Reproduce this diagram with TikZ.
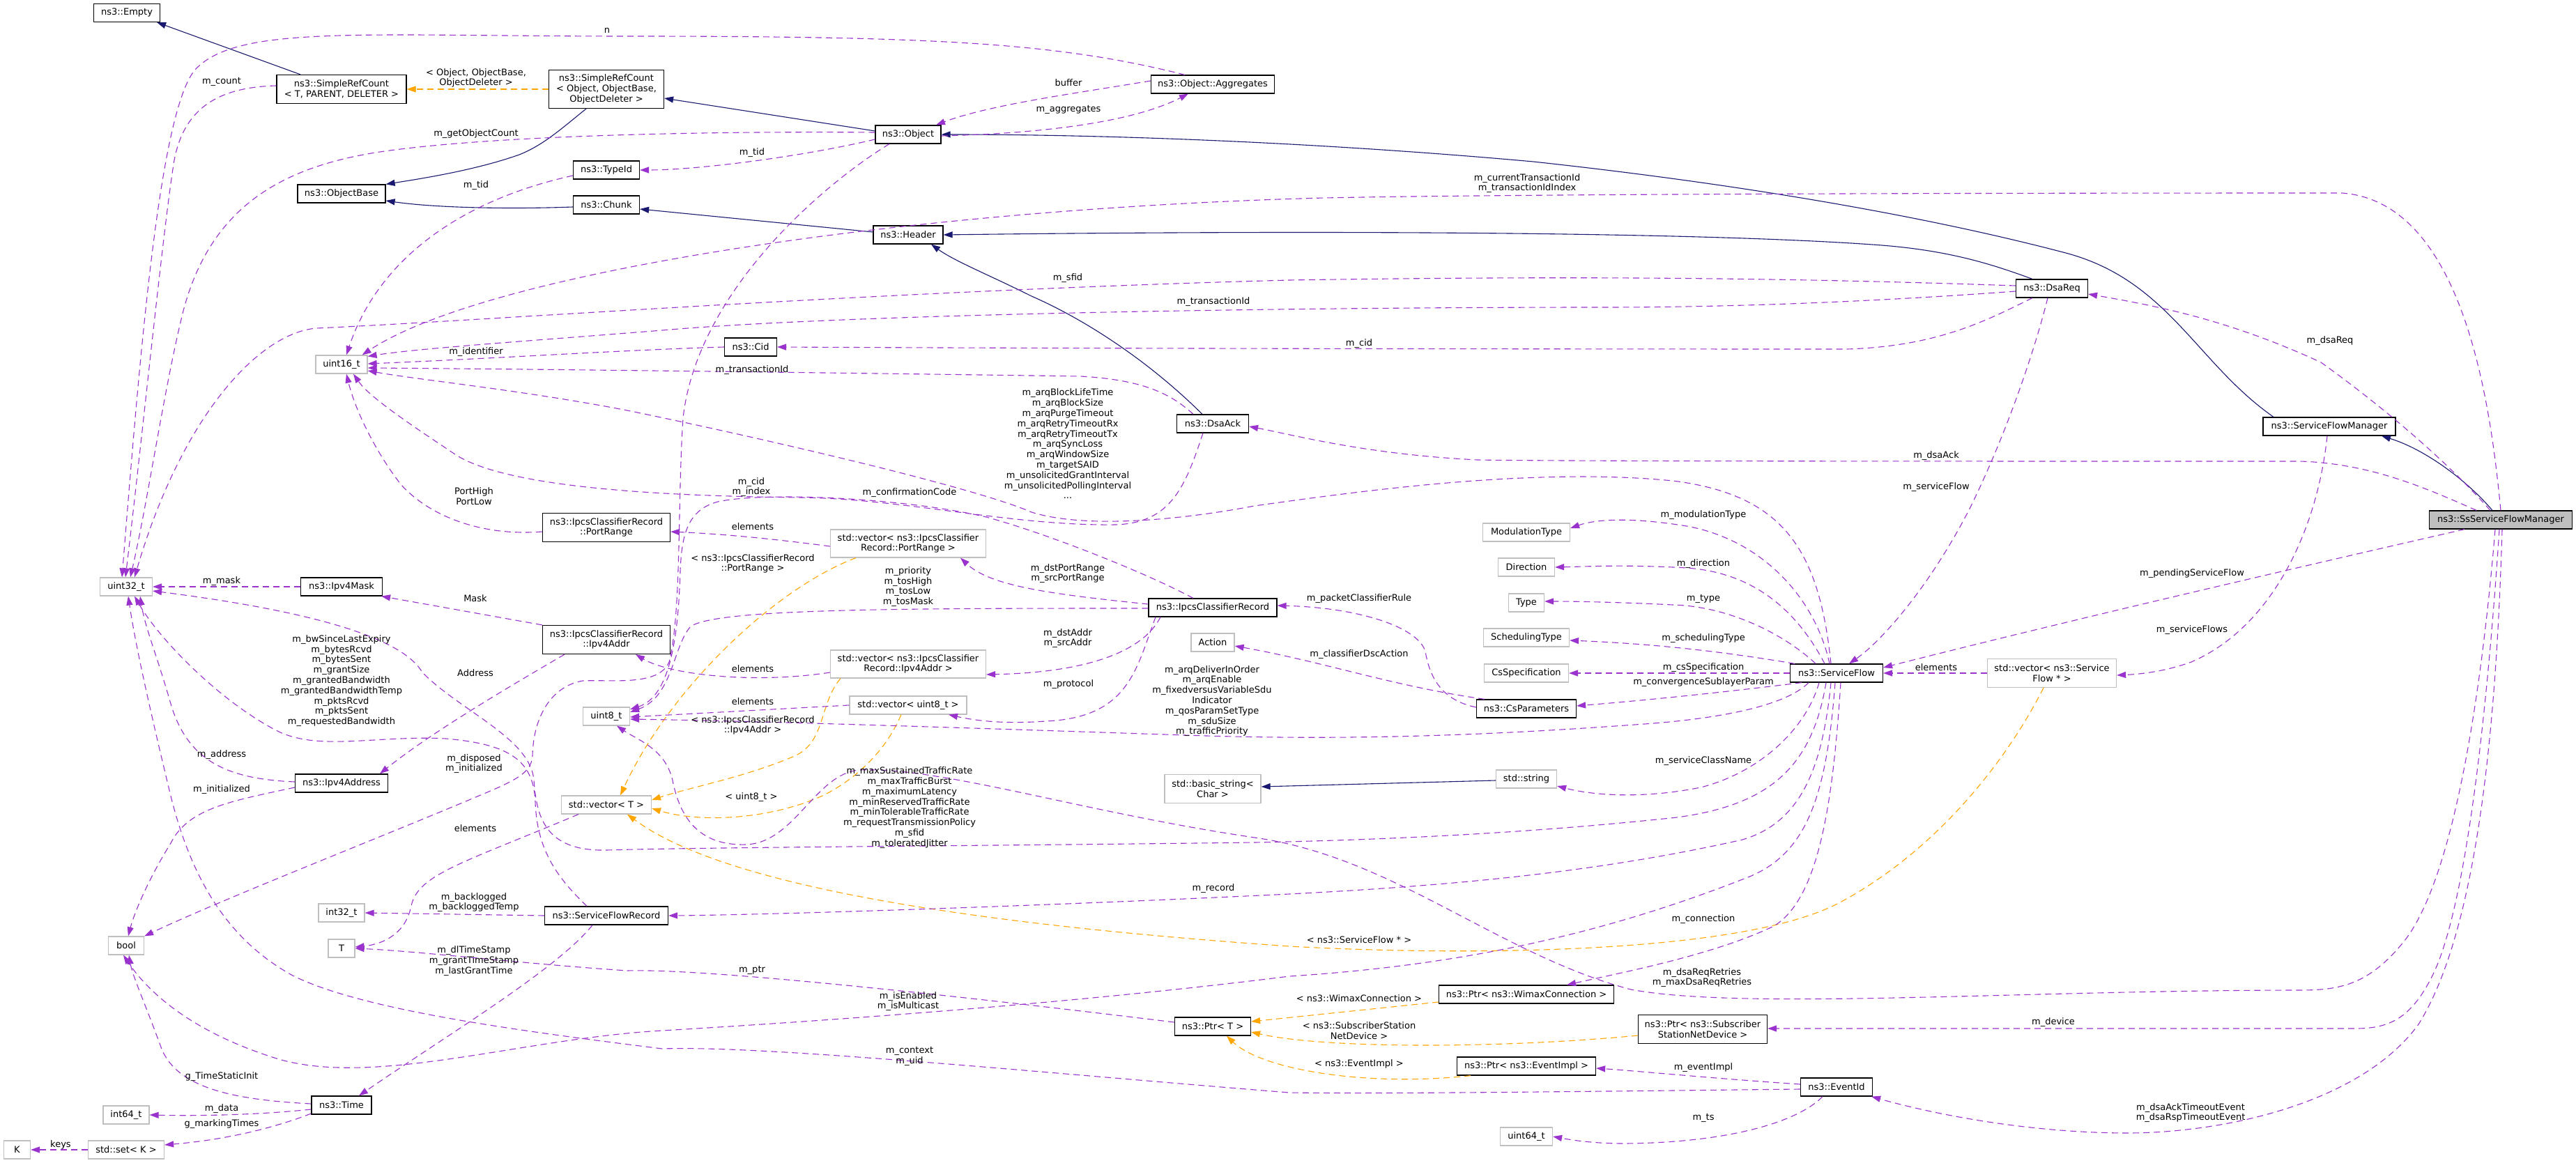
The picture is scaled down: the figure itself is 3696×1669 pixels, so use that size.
\documentclass[tikz,border=0pt]{standalone}
\usepackage{fontspec}
\setmainfont{DejaVu Sans}
\usetikzlibrary{arrows.meta}
\definecolor{edgeuse}{HTML}{9A32CD}
\definecolor{edgetpl}{HTML}{FFA500}
\definecolor{edgeinh}{HTML}{191970}
\definecolor{boxgray}{HTML}{BFBFBF}

\begin{document}
\begin{tikzpicture}[x=1pt,y=-1pt,font=\fontsize{13}{14.8}\selectfont,
  docbox/.style={draw=black,line width=1.2pt,fill=white,inner sep=1pt,align=center},
  extbox/.style={docbox,draw=boxgray},
  lbl/.style={inner sep=0pt,align=center},
  member/.style={draw=edgeuse,line width=1.1pt,dash pattern=on 9pt off 6pt,-{Triangle[length=13pt,width=9pt]}},
  tmpl/.style={member,draw=edgetpl},
  inherit/.style={draw=edgeinh,line width=1.1pt,-{Triangle[length=13pt,width=9pt]}}]
\useasboundingbox (0,0) rectangle (3696,1669);
\fill[white] (0,0) rectangle (3696,1669);

\newcommand{\classbox}[6]{\node[#1,minimum width=#4pt,minimum height=#5pt] (#2) at (#3) {#6};}

% classes
\classbox{docbox}{empty}{182,18.5}{95}{26}{ns3::Empty}
\classbox{docbox}{srcT}{490,128}{186}{41}{ns3::SimpleRefCount\\< T, PARENT, DELETER >}
\classbox{docbox}{srcObj}{870,128}{165}{55}{ns3::SimpleRefCount\\< Object, ObjectBase,\\ObjectDeleter >}
\classbox{docbox}{objbase}{490,278}{126}{26}{ns3::ObjectBase}
\classbox{docbox}{typeid}{870,244}{95}{26}{ns3::TypeId}
\classbox{docbox}{chunk}{870,294}{95}{26}{ns3::Chunk}
\classbox{docbox}{object}{1303,193}{94}{26}{ns3::Object}
\classbox{docbox}{aggr}{1740,121}{177}{26}{ns3::Object::Aggregates}
\classbox{docbox}{header}{1303,337}{100}{26}{ns3::Header}
\classbox{docbox}{cid}{1077,498}{75}{26}{ns3::Cid}
\classbox{docbox}{dsareq}{2944,414}{103}{26}{ns3::DsaReq}
\classbox{docbox}{dsaack}{1740,608}{103}{26}{ns3::DsaAck}
\classbox{extbox}{u16}{490,523}{74}{26}{uint16\_t}
\classbox{extbox}{u32}{181,842}{75}{26}{uint32\_t}
\classbox{docbox}{ipv4mask}{490,842}{117}{26}{ns3::Ipv4Mask}
\classbox{docbox}{portrange}{870,757}{183}{41}{ns3::IpcsClassifierRecord\\::PortRange}
\classbox{docbox}{ipv4addr}{870,918}{183}{41}{ns3::IpcsClassifierRecord\\::Ipv4Addr}
\classbox{extbox}{u8}{870,1028}{67}{26}{uint8\_t}
\classbox{docbox}{ipv4address}{490,1124}{133}{26}{ns3::Ipv4Address}
\classbox{extbox}{vecpr}{1303,780}{223}{40}{std::vector< ns3::IpcsClassifier\\Record::PortRange >}
\classbox{docbox}{ipcs}{1740,872}{184}{26}{ns3::IpcsClassifierRecord}
\classbox{extbox}{action}{1740,922}{62}{26}{Action}
\classbox{extbox}{vecip}{1303,953}{223}{40}{std::vector< ns3::IpcsClassifier\\Record::Ipv4Addr >}
\classbox{extbox}{vecu8}{1303,1012}{168}{26}{std::vector< uint8\_t >}
\classbox{extbox}{basicstr}{1740,1132}{138}{41}{std::basic\_string<\\Char >}
\classbox{extbox}{modtype}{2190,764}{125}{26}{ModulationType}
\classbox{extbox}{direction}{2190,814}{81}{26}{Direction}
\classbox{extbox}{type}{2190,865}{51}{26}{Type}
\classbox{extbox}{schedtype}{2190,915}{123}{26}{SchedulingType}
\classbox{extbox}{csspec}{2190,966}{121}{26}{CsSpecification}
\classbox{docbox}{csparams}{2190,1017}{143}{26}{ns3::CsParameters}
\classbox{docbox}{sflow}{2635,966}{133}{26}{ns3::ServiceFlow}
\classbox{extbox}{stdstr}{2190,1118}{87}{26}{std::string}
\classbox{docbox}{sfm}{3342,612}{190}{26}{ns3::ServiceFlowManager}
\classbox{docbox,fill=boxgray}{ssfm}{3588,746}{205}{26}{ns3::SsServiceFlowManager}
\classbox{extbox}{vecsf}{2944,966}{185}{41}{std::vector< ns3::Service\\Flow * >}
\classbox{extbox}{bool}{181,1357}{51}{26}{bool}
\classbox{extbox}{i32}{490,1310}{66}{26}{int32\_t}
\classbox{extbox}{T}{490,1361}{38}{26}{T}
\classbox{extbox}{vecT}{870,1155}{129}{26}{std::vector< T >}
\classbox{docbox}{sfrec}{870,1314}{177}{26}{ns3::ServiceFlowRecord}
\classbox{docbox}{time}{490,1586}{86}{26}{ns3::Time}
\classbox{extbox}{i64}{181,1600}{66}{26}{int64\_t}
\classbox{extbox}{setK}{181,1650}{109}{26}{std::set< K >}
\classbox{extbox}{K}{24.5,1650}{38}{26}{K}
\classbox{docbox}{ptrT}{1740,1473}{109}{26}{ns3::Ptr< T >}
\classbox{docbox}{ptrwc}{2190,1427}{251}{26}{ns3::Ptr< ns3::WimaxConnection >}
\classbox{docbox}{ptrss}{2443,1477}{185}{41}{ns3::Ptr< ns3::Subscriber\\StationNetDevice >}
\classbox{docbox}{ptrev}{2190,1530}{199}{26}{ns3::Ptr< ns3::EventImpl >}
\classbox{docbox}{eventid}{2635,1560}{103}{26}{ns3::EventId}
\classbox{extbox}{u64}{2190,1631}{75}{26}{uint64\_t}

% inheritance
\draw[inherit] ([xshift=-59pt]srcT.north) -- ([xshift=-5pt]empty.south east);
\draw[inherit] ([xshift=-29pt]srcObj.south) .. controls (805,185) and (780,208) .. (745,222) .. controls (680,245) and (600,257) .. (objbase.north east);
\draw[inherit] ([yshift=5pt]object.west) -- ([yshift=-13pt]srcObj.east);
\draw[inherit] ([yshift=-3pt]chunk.west) .. controls (740,300) and (630,299) .. ([yshift=-10pt]objbase.east);
\draw[inherit] ([yshift=4pt]header.west) -- ([yshift=-6pt]chunk.east);
\draw[inherit] ([xshift=-28pt]dsareq.north) .. controls (2860,380) and (2800,360) .. (2700,352) .. controls (2450,333) and (1900,330) .. (header.east);
\draw[inherit] ([xshift=-15pt]dsaack.north) .. controls (1650,520) and (1560,460) .. (1480,425) .. controls (1420,395) and (1370,375) .. ([xshift=33pt]header.south);
\draw[inherit] ([xshift=-80pt]sfm.north) .. controls (3150,520) and (3110,400) .. (2960,362) .. controls (2800,320) and (2550,270) .. (2200,232) .. controls (1900,205) and (1600,193) .. (object.east);
\draw[inherit] ([xshift=-12pt]ssfm.north) .. controls (3540,690) and (3480,645) .. ([xshift=75pt]sfm.south);
\draw[inherit] ([yshift=-2pt]stdstr.west) -- ([yshift=3pt]basicstr.east);

% template instances
\draw[tmpl] (srcObj.west) -- (srcT.east);
\draw[tmpl] ([xshift=-75pt]vecpr.south) .. controls (1110,845) and (960,990) .. ([xshift=20pt]vecT.north);
\draw[tmpl] ([xshift=-97pt]vecip.south) .. controls (1175,1010) and (1185,1065) .. (1140,1085) .. controls (1070,1115) and (990,1130) .. ([yshift=7pt]vecT.east);
\draw[tmpl] ([xshift=-10pt]vecu8.south) .. controls (1270,1080) and (1225,1120) .. (1180,1142) .. controls (1100,1178) and (1000,1180) .. ([yshift=-5pt]vecT.east);
\draw[tmpl] ([xshift=-12pt]vecsf.south) .. controls (2880,1090) and (2780,1220) .. (2640,1295) .. controls (2500,1370) and (2100,1372) .. (1850,1358) .. controls (1450,1330) and (1050,1280) .. ([xshift=30pt]vecT.south);
\draw[tmpl] ([yshift=-11pt]ptrwc.west) -- ([yshift=7pt]ptrT.east);
\draw[tmpl] ([yshift=-9pt]ptrss.west) .. controls (2150,1505) and (1900,1505) .. ([yshift=-8pt]ptrT.east);
\draw[tmpl] ([xshift=-80pt]ptrev.south) .. controls (1960,1560) and (1810,1535) .. ([xshift=20pt]ptrT.south);

% members
\draw[member] ([xshift=-40pt]aggr.north) .. controls (1520,62) and (1350,52) .. (900,52) .. controls (520,52) and (340,35) .. (280,100) .. controls (228,160) and (200,520) .. ([xshift=-6pt]u32.north);
\draw[member] ([yshift=5pt]srcT.west) .. controls (320,125) and (265,150) .. (250,230) .. controls (235,320) and (205,620) .. ([xshift=-1pt]u32.north);
\draw[member] ([yshift=3pt]object.west) .. controls (1000,188) and (700,195) .. (545,218) .. controls (400,240) and (300,300) .. (262,450) .. controls (235,560) and (212,720) .. ([xshift=6pt]u32.north);
\draw[member] ([yshift=-7pt]object.west) .. controls (1150,225) and (1000,244) .. (typeid.east);
\draw[member] ([yshift=5pt]aggr.west) .. controls (1550,133) and (1420,150) .. ([xshift=40pt]object.north);
\draw[member] ([yshift=-2pt]object.east) .. controls (1480,192) and (1620,178) .. ([xshift=-35pt]aggr.south);
\draw[member] ([yshift=-8pt]typeid.west) .. controls (650,290) and (540,380) .. ([xshift=7pt]u16.north);
\draw[member] (ssfm.north) .. controls (3575,600) and (3540,290) .. (3360,277) .. controls (2900,277) and (2200,278) .. (1900,284) .. controls (1300,300) and (700,390) .. ([xshift=-8pt]u16.north east);
\draw[member] ([yshift=4pt]dsareq.west) .. controls (2600,400) and (2300,395) .. (1850,402) .. controls (1250,418) and (700,460) .. (454,471) .. controls (370,478) and (260,600) .. ([xshift=12pt]u32.north);
\draw[member] ([yshift=-4pt]dsareq.west) .. controls (2700,432) and (2500,441) .. (2300,441) .. controls (1800,441) and (1200,452) .. (950,474) .. controls (750,490) and (600,500) .. ([yshift=-2pt]u16.north east);
\draw[member] ([xshift=-28pt]dsareq.south) .. controls (2850,460) and (2780,497) .. (2650,501) .. controls (2200,501) and (1500,500) .. (cid.east);
\draw[member] (cid.west) .. controls (900,502) and (700,515) .. ([yshift=1pt]u16.east);
\draw[member] ([xshift=-28pt]dsaack.north) .. controls (1680,565) and (1640,545) .. (1550,540) .. controls (1200,535) and (800,530) .. ([yshift=-5pt]u16.east);
\draw[member] ([xshift=-14pt]dsaack.south) .. controls (1700,700) and (1680,750) .. (1601,753) .. controls (1450,755) and (1300,716) .. (1150,714) .. controls (950,712) and (720,700) .. (650,650) .. controls (590,610) and (530,570) .. ([xshift=17pt]u16.south);
\draw[member] ([xshift=-8pt]sflow.north) .. controls (2610,790) and (2560,710) .. (2400,690) .. controls (2200,670) and (1950,705) .. (1800,726) .. controls (1700,745) and (1560,760) .. (1480,735) .. controls (1400,700) and (1100,630) .. (900,589) .. controls (750,560) and (600,545) .. ([yshift=-9pt]u16.east);
\draw[member] ([xshift=-28pt]ipcs.north) .. controls (1640,820) and (1500,765) .. (1415,742) .. controls (1300,715) and (1100,705) .. (1030,720) .. controls (985,732) and (978,770) .. (976,820) .. controls (973,920) and (960,1000) .. ([yshift=10pt]u8.east);
\draw[member] ([yshift=-6pt]portrange.west) .. controls (690,770) and (615,740) .. (575,695) .. controls (540,650) and (510,590) .. ([xshift=7pt]u16.south);
\draw[member] ([yshift=-4pt]vecpr.west) .. controls (1100,772) and (1030,766) .. ([yshift=-6pt]portrange.east);
\draw[member] ([yshift=5pt]ipcs.west) .. controls (1500,852) and (1420,840) .. ([xshift=75pt]vecpr.south);
\draw[member] ([xshift=-75pt]ipcs.south) .. controls (1640,935) and (1560,965) .. ([yshift=-15pt]vecip.east);
\draw[member] ([xshift=-82pt]ipcs.south) .. controls (1630,960) and (1620,1030) .. (1500,1035) .. controls (1430,1040) and (1390,1032) .. ([xshift=58pt]vecu8.south);
\draw[member] ([yshift=-1pt]ipcs.west) .. controls (1300,873) and (1020,873) .. (990,900) .. controls (965,930) and (965,1000) .. ([yshift=6pt]u8.east);
\draw[member] ([yshift=-12pt]vecip.west) .. controls (1080,982) and (960,968) .. ([xshift=42pt]ipv4addr.south);
\draw[member] (vecu8.west) -- ([yshift=-1pt]u8.east);
\draw[member] (ipv4addr.north west) -- ([xshift=-2pt]ipv4mask.south east);
\draw[member] ([xshift=-60pt]ipv4addr.south) .. controls (740,980) and (620,1050) .. ([xshift=55pt]ipv4address.north);
\draw[member] (ipv4mask.west) -- (u32.east);
\draw[member] ([yshift=2pt]ipv4address.west) .. controls (330,1118) and (270,1095) .. (245,1010) .. controls (225,940) and (208,900) .. ([xshift=20pt]u32.south);
\draw[member] ([yshift=-6pt]ipv4address.west) .. controls (330,1150) and (270,1160) .. (245,1210) .. controls (205,1275) and (190,1320) .. ([xshift=3pt]bool.north);
\draw[member] ([xshift=-28pt]sfrec.north) .. controls (800,1260) and (770,1220) .. (768,1150) .. controls (765,1090) and (730,1068) .. (640,1060) .. controls (540,1055) and (460,1078) .. (400,1050) .. controls (320,1010) and (230,920) .. ([xshift=12pt]u32.south);
\draw[member] (sfrec.west) -- (i32.east);
\draw[member] ([xshift=-20pt]sfrec.south) .. controls (800,1390) and (650,1480) .. ([xshift=25pt]time.north);
\draw[member] ([xshift=-40pt]vecT.south) .. controls (660,1240) and (600,1255) .. (590,1300) .. controls (582,1340) and (550,1355) .. ([yshift=2pt]T.east);
\draw[member] ([yshift=6pt]ptrT.west) .. controls (1300,1420) and (1000,1390) .. (900,1393) .. controls (750,1383) and (600,1365) .. (T.east);
\draw[member] ([yshift=2pt]time.west) .. controls (330,1578) and (250,1560) .. (230,1500) .. controls (208,1440) and (190,1400) .. ([xshift=4pt]bool.south);
\draw[member] ([yshift=-6pt]time.west) .. controls (350,1602) and (260,1601) .. (i64.east);
\draw[member] ([yshift=-12pt]time.west) .. controls (390,1620) and (320,1636) .. ([yshift=7pt]setK.east);
\draw[member] (setK.west) -- (K.east);
\draw[member] ([xshift=-27pt]object.south) .. controls (1180,265) and (1000,420) .. (980,600) .. controls (972,720) and (978,880) .. (960,950) .. controls (945,985) and (880,975) .. (836,977) .. controls (790,985) and (765,1030) .. (764,1085) .. controls (762,1110) and (740,1120) .. (680,1145) .. controls (550,1200) and (320,1290) .. (bool.north east);
\draw[member] ([xshift=-15pt]sflow.south) .. controls (2600,1100) and (2540,1155) .. (2406,1173) .. controls (2200,1195) and (2000,1205) .. (1800,1209) .. controls (1400,1214) and (1000,1216) .. (870,1220) .. controls (780,1222) and (770,1170) .. (766,1120) .. controls (762,1060) and (660,1020) .. (606,965) .. controls (580,920) and (470,880) .. ([yshift=-6pt]u32.east);
\draw[member] ([xshift=-2pt]sflow.south) .. controls (2620,1150) and (2590,1230) .. (2500,1262) .. controls (2300,1340) and (2100,1385) .. (1850,1401) .. controls (1500,1445) and (1100,1470) .. (950,1479) .. controls (750,1490) and (540,1560) .. (400,1520) .. controls (270,1480) and (210,1420) .. ([xshift=-4pt]bool.south);
\draw[member] ([xshift=6pt]sflow.south) .. controls (2630,1150) and (2610,1290) .. (2545,1329) .. controls (2460,1370) and (2330,1395) .. ([xshift=58pt]ptrwc.north);
\draw[member] ([xshift=-8pt]sflow.south) .. controls (2615,1100) and (2585,1180) .. (2500,1205) .. controls (2300,1250) and (2100,1270) .. (1850,1283) .. controls (1500,1300) and (1100,1313) .. (sfrec.east);
\draw[member] ([xshift=-25pt]sflow.south) .. controls (2590,1050) and (2520,1110) .. (2440,1130) .. controls (2350,1148) and (2280,1140) .. ([yshift=-10pt]stdstr.east);
\draw[member] ([xshift=-10pt]sflow.north) .. controls (2605,860) and (2530,775) .. (2420,755) .. controls (2340,742) and (2290,745) .. ([yshift=6pt]modtype.east);
\draw[member] ([xshift=-17pt]sflow.north) .. controls (2580,880) and (2520,822) .. (2420,815) .. controls (2330,810) and (2280,813) .. (direction.east);
\draw[member] ([xshift=-30pt]sflow.north) .. controls (2560,910) and (2480,870) .. (2400,868) .. controls (2320,864) and (2260,863) .. ([yshift=2pt]type.east);
\draw[member] ([xshift=-60pt]sflow.north) .. controls (2500,940) and (2400,925) .. ([yshift=-4pt]schedtype.east);
\draw[member] (sflow.west) -- (csspec.east);
\draw[member] ([xshift=-50pt]sflow.south) .. controls (2460,995) and (2360,1005) .. ([yshift=4pt]csparams.east);
\draw[member] ([xshift=-40pt]sflow.south) .. controls (2570,1005) and (2500,1030) .. (2345,1040) .. controls (2100,1058) and (1900,1062) .. (1700,1055) .. controls (1400,1045) and (1100,1035) .. ([yshift=-4pt]u8.east);
\draw[member] ([yshift=2pt]csparams.west) .. controls (2070,1005) and (2052,975) .. (2045,935) .. controls (2035,900) and (1950,872) .. ([yshift=3pt]ipcs.east);
\draw[member] ([xshift=-60pt]csparams.north) .. controls (2000,985) and (1900,950) .. ([yshift=-5pt]action.east);
\draw[member] ([xshift=-6pt]dsareq.south) .. controls (2920,500) and (2880,620) .. (2827,728) .. controls (2770,840) and (2700,920) .. ([xshift=18pt]sflow.north);
\draw[member] (vecsf.west) -- (sflow.east);
\draw[member] ([xshift=-52pt]ssfm.south) .. controls (3250,825) and (2950,895) .. ([yshift=8pt]sflow.east);
\draw[member] ([xshift=-3pt]sfm.south) .. controls (3325,760) and (3260,900) .. (3144,950) .. controls (3100,966) and (3060,968) .. ([yshift=-3pt]vecsf.east);
\draw[member] ([xshift=-15pt]ssfm.north) .. controls (3500,650) and (3400,570) .. (3330,520) .. controls (3200,460) and (3100,440) .. ([yshift=-8pt]dsareq.east);
\draw[member] ([xshift=-35pt]ssfm.north) .. controls (3480,700) and (3400,665) .. (3300,662) .. controls (2800,662) and (2250,662) .. (2120,660) .. controls (1960,652) and (1860,625) .. ([yshift=-4pt]dsaack.east);
\draw[member] ([xshift=-2pt]ssfm.south) .. controls (3570,1000) and (3540,1300) .. (3490,1400) .. controls (3460,1460) and (3430,1476) .. (3380,1476) .. controls (3000,1476) and (2700,1476) .. ([yshift=1pt]ptrss.east);
\draw[member] ([xshift=2pt]ssfm.south) .. controls (3580,1100) and (3545,1350) .. (3470,1470) .. controls (3390,1580) and (3200,1625) .. (3055,1626) .. controls (2900,1626) and (2760,1595) .. ([xshift=-2pt]eventid.south east);
\draw[member] ([xshift=-8pt]ssfm.south) .. controls (3560,1000) and (3520,1260) .. (3450,1350) .. controls (3400,1412) and (3360,1421) .. (3300,1421) .. controls (2900,1421) and (2500,1450) .. (2340,1420) .. controls (2150,1370) and (2000,1230) .. (1800,1202) .. controls (1550,1165) and (1350,1100) .. (1233,1105) .. controls (1170,1110) and (1140,1210) .. (1070,1212) .. controls (1000,1214) and (975,1170) .. (965,1120) .. controls (955,1075) and (915,1062) .. ([xshift=15pt]u8.south);
\draw[member] ([yshift=4pt]eventid.west) .. controls (2450,1547) and (2350,1537) .. ([yshift=-3pt]ptrev.east);
\draw[member] ([xshift=-20pt]eventid.south) .. controls (2580,1610) and (2480,1640) .. (2330,1641) .. controls (2290,1641) and (2260,1637) .. (u64.east);
\draw[member] ([yshift=-3pt]eventid.west) .. controls (2300,1566) and (2000,1570) .. (1850,1568) .. controls (1500,1540) and (1100,1500) .. (950,1505) .. controls (750,1480) and (520,1450) .. (420,1400) .. controls (320,1345) and (270,1250) .. (242,1130) .. controls (218,1030) and (195,930) .. ([xshift=3pt]u32.south);

% edge labels
\node[lbl] (lbn) at (871,44) {n};
\node[lbl] (lbcount) at (318,117) {m\_count};
\node[lbl] (lbsrc) at (683,112) {< Object, ObjectBase,\\ObjectDeleter >};
\node[lbl] (lbgoc) at (683,192) {m\_getObjectCount};
\node[lbl] (lbtid) at (683,266) {m\_tid};
\node[lbl] (lbident) at (683,505) {m\_identifier};
\node[lbl] (lbbuf) at (1533,119) {buffer};
\node[lbl] (lbaggr) at (1533,157) {m\_aggregates};
\node[lbl] (lbtidb) at (1079,219) {m\_tid};
\node[lbl] (lbsfid) at (1532,399) {m\_sfid};
\node[lbl] (lbtrq) at (1741,433) {m\_transactionId};
\node[lbl] (lbtra) at (1079,531) {m\_transactionId};
\node[lbl] (lbarq) at (1532,637) {m\_arqBlockLifeTime\\m\_arqBlockSize\\m\_arqPurgeTimeout\\m\_arqRetryTimeoutRx\\m\_arqRetryTimeoutTx\\m\_arqSyncLoss\\m\_arqWindowSize\\m\_targetSAID\\m\_unsolicitedGrantInterval\\m\_unsolicitedPollingInterval\\...};
\node[lbl] (lbcur) at (2191,263) {m\_currentTransactionId\\m\_transactionIdIndex};
\node[lbl] (lbcid) at (1950,493) {m\_cid};
\node[lbl] (lbdsareq) at (3343,489) {m\_dsaReq};
\node[lbl] (lbport) at (680,712) {PortHigh\\PortLow};
\node[lbl] (lbmask) at (318,834) {m\_mask};
\node[lbl] (lbMask) at (682,859) {Mask};
\node[lbl] (lbAddr) at (682,966) {Address};
\node[lbl] (lbbw) at (490,977) {m\_bwSinceLastExpiry\\m\_bytesRcvd\\m\_bytesSent\\m\_grantSize\\m\_grantedBandwidth\\m\_grantedBandwidthTemp\\m\_pktsRcvd\\m\_pktsSent\\m\_requestedBandwidth};
\node[lbl] (lbaddr) at (318,1083) {m\_address};
\node[lbl] (lbdisp) at (680,1096) {m\_disposed\\m\_initialized};
\node[lbl] (lbcidx) at (1078,699) {m\_cid\\m\_index};
\node[lbl] (lbconf) at (1305,707) {m\_confirmationCode};
\node[lbl] (lbelpr) at (1080,756) {elements};
\node[lbl] (lbtpr) at (1080,809) {< ns3::IpcsClassifierRecord\\::PortRange >};
\node[lbl] (lbprio) at (1303,842) {m\_priority\\m\_tosHigh\\m\_tosLow\\m\_tosMask};
\node[lbl] (lbdpr) at (1532,823) {m\_dstPortRange\\m\_srcPortRange};
\node[lbl] (lbdaddr) at (1532,916) {m\_dstAddr\\m\_srcAddr};
\node[lbl] (lbelip) at (1080,960) {elements};
\node[lbl] (lbproto) at (1533,982) {m\_protocol};
\node[lbl] (lbarqd) at (1739,1006) {m\_arqDeliverInOrder\\m\_arqEnable\\m\_fixedversusVariableSdu\\Indicator\\m\_qosParamSetType\\m\_sduSize\\m\_trafficPriority};
\node[lbl] (lbelu8) at (1080,1007) {elements};
\node[lbl] (lbtip) at (1080,1041) {< ns3::IpcsClassifierRecord\\::Ipv4Addr >};
\node[lbl] (lbmax) at (1305,1159) {m\_maxSustainedTrafficRate\\m\_maxTrafficBurst\\m\_maximumLatency\\m\_minReservedTrafficRate\\m\_minTolerableTrafficRate\\m\_requestTransmissionPolicy\\m\_sfid\\m\_toleratedJitter};
\node[lbl] (lbmod) at (2444,739) {m\_modulationType};
\node[lbl] (lbdir) at (2444,809) {m\_direction};
\node[lbl] (lbtype) at (2444,859) {m\_type};
\node[lbl] (lbsched) at (2444,916) {m\_schedulingType};
\node[lbl] (lbcss) at (2444,958) {m\_csSpecification};
\node[lbl] (lbconv) at (2444,979) {m\_convergenceSublayerParam};
\node[lbl] (lbpcr) at (1950,859) {m\_packetClassifierRule};
\node[lbl] (lbdsc) at (1950,939) {m\_classifierDscAction};
\node[lbl] (lbscn) at (2444,1092) {m\_serviceClassName};
\node[lbl] (lbdsaack) at (2778,654) {m\_dsaAck};
\node[lbl] (lbsf) at (2778,699) {m\_serviceFlow};
\node[lbl] (lbpend) at (3145,823) {m\_pendingServiceFlow};
\node[lbl] (lbsfs) at (3145,904) {m\_serviceFlows};
\node[lbl] (lbelsf) at (2778,958) {elements};
\node[lbl] (lbinit) at (318,1133) {m\_initialized};
\node[lbl] (lbelT) at (682,1189) {elements};
\node[lbl] (lbback) at (680,1295) {m\_backlogged\\m\_backloggedTemp};
\node[lbl] (lbdl) at (680,1379) {m\_dlTimeStamp\\m\_grantTimeStamp\\m\_lastGrantTime};
\node[lbl] (lbgts) at (318,1545) {g\_TimeStaticInit};
\node[lbl] (lbdata) at (318,1591) {m\_data};
\node[lbl] (lbgmt) at (318,1613) {g\_markingTimes};
\node[lbl] (lbkeys) at (87,1643) {keys};
\node[lbl] (lbtu8) at (1078,1144) {< uint8\_t >};
\node[lbl] (lbrec) at (1741,1275) {m\_record};
\node[lbl] (lbptr) at (1079,1392) {m\_ptr};
\node[lbl] (lbena) at (1303,1437) {m\_isEnabled\\m\_isMulticast};
\node[lbl] (lbctx) at (1305,1516) {m\_context\\m\_uid};
\node[lbl] (lbconn) at (2444,1319) {m\_connection};
\node[lbl] (lbtsf) at (1950,1349) {< ns3::ServiceFlow * >};
\node[lbl] (lbretr) at (2442,1403) {m\_dsaReqRetries\\m\_maxDsaReqRetries};
\node[lbl] (lbtwc) at (1950,1433) {< ns3::WimaxConnection >};
\node[lbl] (lbtss) at (1950,1479) {< ns3::SubscriberStation\\NetDevice >};
\node[lbl] (lbtev) at (1950,1527) {< ns3::EventImpl >};
\node[lbl] (lbevi) at (2444,1532) {m\_eventImpl};
\node[lbl] (lbts) at (2444,1604) {m\_ts};
\node[lbl] (lbdev) at (2946,1467) {m\_device};
\node[lbl] (lbtmo) at (3143,1597) {m\_dsaAckTimeoutEvent\\m\_dsaRspTimeoutEvent};
\end{tikzpicture}
\end{document}
